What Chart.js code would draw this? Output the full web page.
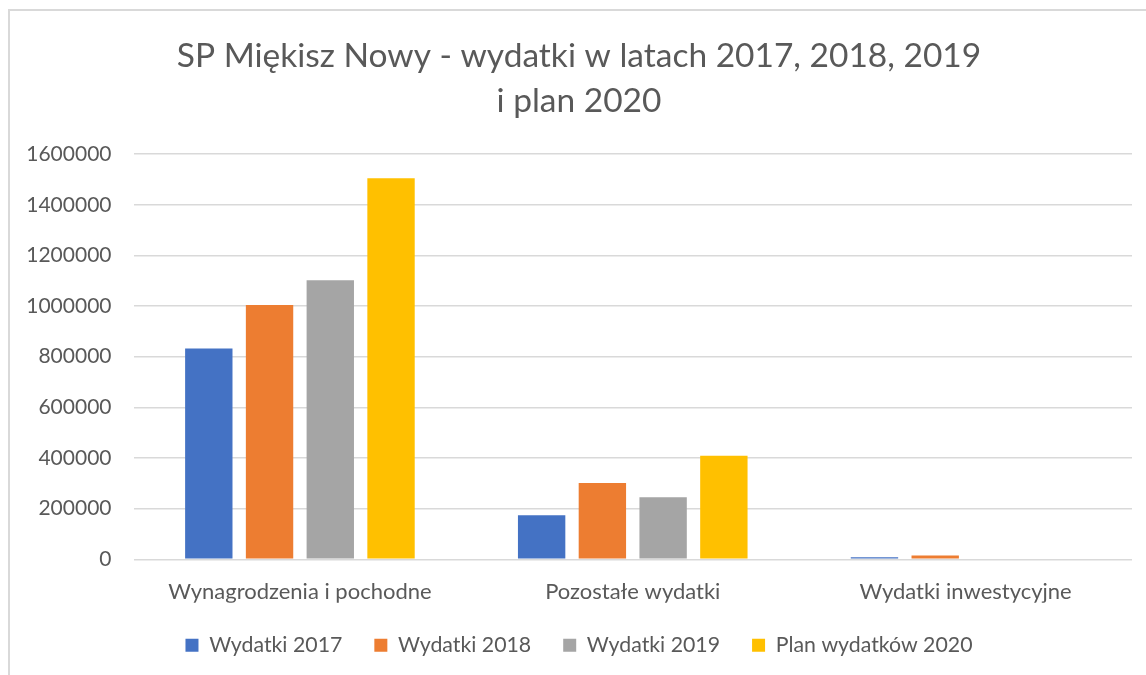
<!DOCTYPE html>
<html>

<head>
    <meta charset="utf-8">
    <script src="https://cdn.jsdelivr.net/npm/chart.js@4.4.0/dist/chart.umd.min.js"></script>
    <style>
        body { margin: 0; background: #fff; }
        #frame { position: absolute; left: 8px; top: 9px; width: 1200px; height: 700px; border: 2px solid #d9d9d9; box-sizing: border-box; }
        #wrap { position: absolute; left: 0; top: 0; width: 1146px; height: 675px; }
    </style>
</head>

<body>
    <div id="frame"></div>
    <div id="wrap"><canvas id="myChart"></canvas></div>

    <script>
        // categories and values
        var categories = ["Wynagrodzenia i pochodne", "Pozostałe wydatki", "Wydatki inwestycyjne"];
        var seriesNames = ["Wydatki 2017", "Wydatki 2018", "Wydatki 2019", "Plan wydatków 2020"];
        var wydatki2017 = [832000, 174000, 8000];
        var wydatki2018 = [1004000, 301000, 15000];
        var wydatki2019 = [1102000, 245000, 0];
        var plan2020 = [1505000, 409000, 0];
        var yTicks = [0, 200000, 400000, 600000, 800000, 1000000, 1200000, 1400000, 1600000];
        var barColors = ["#4472C4", "#ED7D31", "#A5A5A5", "#FFC000"];

        var textColor = "#595959";
        var fontName = "Lato";

        var allSeries = [wydatki2017, wydatki2018, wydatki2019, plan2020];
        var datasets = [];
        for (let i in allSeries) {
            datasets.push({
                label: seriesNames[i],
                data: allSeries[i],
                backgroundColor: barColors[i],
                categoryPercentage: 0.73,
                barPercentage: 0.78
            });
        }

        new Chart("myChart", {
            type: "bar",
            data: {
                labels: categories,
                datasets: datasets
            },
            options: {
                responsive: true,
                maintainAspectRatio: false,
                animation: false,
                layout: { padding: { left: 26, right: 14, top: 0, bottom: 9 } },
                plugins: {
                    title: {
                        display: true,
                        text: ["SP Miękisz Nowy - wydatki w latach 2017, 2018, 2019", "i plan 2020"],
                        color: textColor,
                        font: { family: fontName, size: 33.5, weight: "normal", lineHeight: 1.33 },
                        padding: { top: 34, bottom: 31 }
                    },
                    legend: {
                        position: "bottom",
                        labels: {
                            color: textColor,
                            font: { family: fontName, size: 21.3 },
                            boxWidth: 13,
                            boxHeight: 13,
                            padding: 32
                        }
                    },
                    tooltip: { enabled: false }
                },
                scales: {
                    x: {
                        afterFit: function (scale) { scale.height = scale.height - 13; },
                        grid: { display: false },
                        border: { display: false },
                        ticks: { color: textColor, font: { family: fontName, size: 22 }, padding: 11 }
                    },
                    y: {
                        min: 0,
                        max: 1600000,
                        afterFit: function (scale) { scale.width = 107.5; },
                        afterBuildTicks: function (scale) {
                            scale.ticks = yTicks.map(function (v) { return { value: v }; });
                        },
                        grid: { color: "#d9d9d9", lineWidth: 1.5, drawTicks: false },
                        border: { display: false },
                        ticks: {
                            color: textColor,
                            font: { family: fontName, size: 21 },
                            padding: 22,
                            callback: function (v) { return String(v); }
                        }
                    }
                }
            }
        });
    </script>
</body>

</html>
